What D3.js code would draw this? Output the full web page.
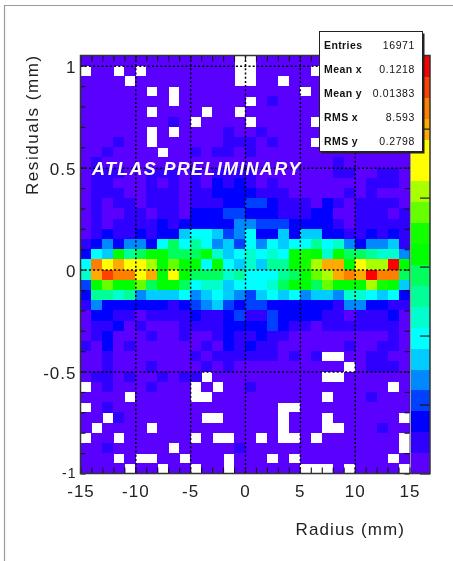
<!DOCTYPE html>
<html>
<head>
<meta charset="utf-8">
<script src="https://cdn.jsdelivr.net/npm/d3@7"></script>
<style>
  html, body { margin: 0; padding: 0; background: #fff; }
  svg { display: block; filter: blur(0.55px); font-family: "Liberation Sans", sans-serif; }
</style>
</head>
<body>
<svg id="chart"></svg>
<script>
// bin edges
const xDomain = [-15, 15]
const yDomain = [-1, 1.05]
const binX = 1
const binY = 0.05

const xMajor = [-15, -10, -5, 0, 5, 10, 15]
const yMajor = [-1, -0.5, 0, 0.5, 1]
const xMinor = d3.range(-15, 15.5, 1)
const yMinor = d3.range(-1, 1.01, 0.1)
const xGrid = [-10, -5, 0, 5, 10]
const yGrid = [-0.5, 0, 0.5, 1]

// colour level of each cell, top row first, 0 = empty bin
const cells = [
  [1,1,1,1,1,1,1,1,1,1,1,1,1,1,0,0,1,1,1,1,1,1,1,1,1,1,1,1,1,1],
  [0,1,1,0,1,0,1,1,1,1,1,1,1,1,0,0,1,1,1,1,1,0,1,1,1,1,1,1,1,1],
  [1,1,1,1,0,1,1,1,1,1,1,1,1,1,0,0,1,1,0,1,1,1,1,1,1,1,1,1,1,1],
  [1,1,1,1,1,1,0,1,0,1,1,1,1,1,1,1,1,1,1,1,0,1,1,1,1,1,1,1,1,1],
  [1,1,1,1,1,1,1,1,0,1,1,1,1,1,1,0,1,2,1,1,1,1,1,1,1,1,1,1,1,1],
  [1,1,1,1,1,1,0,1,1,1,1,0,1,1,0,1,1,1,1,1,1,1,1,1,1,1,1,1,1,1],
  [1,1,1,1,1,1,1,1,2,1,0,1,1,1,1,0,1,1,1,1,1,0,1,1,1,1,1,1,1,1],
  [1,1,1,1,1,1,0,1,0,1,1,1,1,2,1,1,2,1,1,1,1,1,1,1,1,1,1,1,1,1],
  [1,1,1,2,1,1,0,1,1,1,1,1,1,2,2,2,1,2,1,1,1,0,1,1,1,1,1,1,1,1],
  [1,1,2,1,1,1,1,0,1,1,2,1,2,2,1,2,1,1,1,1,1,1,1,1,1,1,1,1,1,1],
  [1,2,1,1,1,1,1,1,1,1,1,1,1,1,1,1,1,1,1,1,1,1,1,2,1,1,1,1,1,1],
  [1,2,2,2,1,1,2,2,2,1,2,1,2,2,2,2,1,1,1,1,1,1,1,2,2,1,1,2,2,1],
  [1,2,2,1,1,1,2,1,2,1,2,1,3,2,3,2,1,2,1,1,1,1,1,1,1,1,2,2,2,1],
  [1,2,2,2,1,1,2,2,2,1,2,2,3,3,3,3,2,2,2,1,1,1,1,1,2,1,2,1,1,1],
  [1,2,1,2,2,1,2,2,2,1,2,2,2,3,3,4,4,3,2,2,2,1,3,2,1,2,2,2,2,1],
  [1,2,1,1,2,2,1,2,2,1,3,3,3,4,4,3,3,3,2,2,2,3,3,1,1,2,2,2,1,2],
  [1,2,1,2,2,2,2,3,2,3,3,3,3,3,5,5,4,4,4,3,3,3,3,2,1,2,2,2,2,2],
  [1,2,3,2,2,3,2,3,3,6,7,7,6,4,5,7,3,3,6,3,6,6,3,3,2,2,3,2,3,2],
  [2,3,5,3,5,5,3,7,10,7,9,7,5,6,4,7,5,7,6,7,7,9,7,8,5,3,5,5,6,2],
  [3,7,6,11,9,10,11,11,10,10,10,11,8,6,7,8,7,8,7,11,12,11,8,11,10,10,9,8,8,5],
  [7,18,16,17,16,16,14,11,13,11,11,7,11,7,6,8,6,9,9,11,12,14,17,17,11,16,14,14,20,11],
  [8,17,19,18,18,16,17,11,16,11,10,10,10,8,9,7,7,7,9,10,11,13,14,17,18,17,20,18,18,10],
  [4,11,13,11,11,13,10,11,11,10,7,8,8,6,7,7,7,8,10,11,11,10,13,11,11,11,14,12,11,6],
  [3,9,9,8,9,5,6,6,6,7,5,6,7,6,5,4,6,7,6,7,5,6,6,5,8,8,7,6,7,3],
  [2,5,3,3,3,3,3,3,2,3,4,5,6,4,3,4,4,3,3,3,3,3,3,2,5,5,3,3,2,2],
  [1,3,3,2,2,1,2,2,2,2,3,2,2,3,4,2,2,4,3,3,3,3,2,2,1,2,2,2,3,1],
  [1,2,2,3,1,2,1,1,1,2,2,2,2,3,3,3,3,4,3,2,2,1,2,2,2,2,2,2,2,1],
  [1,2,3,1,1,1,2,1,1,2,1,1,2,3,2,2,3,2,2,1,1,1,1,1,1,1,1,1,2,1],
  [2,1,3,1,2,1,1,1,1,1,1,2,1,3,2,3,2,2,1,1,1,1,1,1,2,1,1,2,2,1],
  [1,1,2,1,1,1,1,1,1,1,2,1,2,2,2,2,2,2,1,2,1,2,0,0,1,1,2,2,1,1],
  [1,1,2,1,1,1,2,1,1,1,1,2,1,2,1,1,1,1,1,1,1,1,1,1,0,1,2,2,2,1],
  [1,2,2,1,2,1,1,2,1,2,2,0,1,1,1,1,1,1,1,1,1,1,0,0,1,1,1,1,1,1],
  [0,1,2,1,1,1,2,1,1,1,0,1,0,1,1,2,1,1,1,1,1,1,1,1,1,1,1,1,0,1],
  [1,1,1,1,0,1,1,1,1,1,0,0,1,1,1,1,1,1,1,1,1,1,0,1,1,1,2,1,1,1],
  [0,1,2,1,1,1,1,1,1,1,1,1,1,1,1,1,1,1,0,0,1,1,1,1,1,1,1,1,1,1],
  [1,1,0,2,1,1,1,1,1,1,1,0,0,1,1,1,1,1,0,1,1,1,0,1,1,1,1,1,1,0],
  [1,0,1,1,1,1,0,1,1,1,1,1,1,1,1,1,1,1,0,1,1,1,0,0,1,1,1,2,1,1],
  [0,1,1,0,1,1,1,1,1,1,0,1,0,0,1,1,0,1,0,0,1,0,1,1,1,1,1,1,1,0],
  [1,1,2,1,1,1,1,1,0,1,1,1,1,1,2,1,1,1,1,1,1,1,1,1,1,1,1,1,1,0],
  [1,1,1,0,1,0,0,1,1,0,1,1,1,0,1,1,1,0,1,0,1,1,1,1,1,1,1,1,0,1],
  [1,1,1,1,0,1,1,0,1,1,0,1,1,0,1,1,1,1,1,1,0,0,0,1,0,1,1,1,1,0]
]

// palette, bottom of the colour bar first
const palette = [
  '#5a00ff', '#3000ff', '#0000ff', '#0040ff', '#0088ff',
  '#00ccff', '#00ffff', '#00ffcc', '#00ff99', '#00ff5c',
  '#00ff00', '#12ff00', '#66ff00', '#aaff00', '#ffff00',
  '#ffff00', '#ffaa00', '#ff8000', '#ff4000', '#ff0000'
]
const zDomain = [0, 60.6]
const zTicks = [0, 10, 20, 30, 40, 50]

const statNames = ['Entries', 'Mean x', 'Mean y', 'RMS x', 'RMS y']
const statValues = ['16971', '0.1218', '0.01383', '8.593', '0.2798']

let width = 453
let height = 561
let margin = { top: 55.5, left: 80.5, right: 409.5, bottom: 473.5 }

let svg = d3.select('#chart')
  .attr('width', width)
  .attr('height', height)
  .attr('viewBox', [0, 0, width, height])

// frame of the pasted page
svg.append('path')
  .attr('d', d3.line()([[4.5, height], [4.5, 5.5], [width, 5.5]]))
  .attr('fill', 'none')
  .attr('stroke', '#9a9a9a')
  .attr('stroke-width', 1.2)

let x = d3.scaleLinear().domain(xDomain).range([margin.left, margin.right])
let y = d3.scaleLinear().domain(yDomain).range([margin.bottom, margin.top])

// histogram cells
let cellData = cells.flatMap((row, i) => row.map((level, j) => ({
  level,
  x0: xDomain[0] + j * binX,
  y1: yDomain[1] - i * binY
}))).filter(d => d.level > 0)

svg.append('g')
  .attr('shape-rendering', 'crispEdges')
  .selectAll('rect')
  .data(cellData)
  .enter()
  .append('rect')
  .attr('x', d => x(d.x0))
  .attr('y', d => y(d.y1))
  .attr('width', d => x(d.x0 + binX) - x(d.x0) + 0.5)
  .attr('height', d => y(d.y1 - binY) - y(d.y1) + 0.5)
  .attr('fill', d => palette[d.level - 1])

// dotted grid
let gridStyle = g => {
  g.select('.domain').remove()
  g.selectAll('text').remove()
  g.selectAll('line')
    .attr('stroke', '#000')
    .attr('stroke-width', 1.5)
    .attr('stroke-dasharray', '2 2.2')
}
svg.append('g')
  .attr('transform', `translate(0,${margin.bottom})`)
  .call(d3.axisBottom(x).tickValues(xGrid).tickSize(margin.top - margin.bottom))
  .call(gridStyle)
svg.append('g')
  .attr('transform', `translate(${margin.left},0)`)
  .call(d3.axisLeft(y).tickValues(yGrid).tickSize(margin.left - margin.right))
  .call(gridStyle)

// inside ticks on all four sides
let tickStyle = g => {
  g.select('.domain').remove()
  g.selectAll('text').remove()
  g.selectAll('line').attr('stroke', '#111').attr('stroke-width', 1.1)
}
svg.append('g')
  .attr('transform', `translate(0,${margin.bottom})`)
  .call(d3.axisBottom(x).tickValues(xMinor).tickSize(-6))
  .call(tickStyle)
svg.append('g')
  .attr('transform', `translate(0,${margin.top})`)
  .call(d3.axisTop(x).tickValues(xMinor).tickSize(-6))
  .call(tickStyle)
svg.append('g')
  .attr('transform', `translate(${margin.left},0)`)
  .call(d3.axisLeft(y).tickValues(yMinor).tickSize(-5))
  .call(tickStyle)
svg.append('g')
  .attr('transform', `translate(${margin.right},0)`)
  .call(d3.axisRight(y).tickValues(yMinor).tickSize(-5))
  .call(tickStyle)

// colour bar
let barLeft = margin.right + 1
let barRight = 430
let bandY = d3.scaleLinear().domain([0, palette.length]).range([margin.bottom, margin.top])
svg.append('g')
  .attr('shape-rendering', 'crispEdges')
  .selectAll('rect')
  .data(palette)
  .enter()
  .append('rect')
  .attr('x', barLeft)
  .attr('width', barRight - barLeft)
  .attr('y', (d, i) => bandY(i + 1))
  .attr('height', (d, i) => bandY(i) - bandY(i + 1) + 0.5)
  .attr('fill', d => d)

let z = d3.scaleLinear().domain(zDomain).range([margin.bottom, margin.top])
svg.append('g')
  .attr('transform', `translate(${barRight},0)`)
  .call(d3.axisRight(z).tickValues(zTicks).tickSize(-10))
  .call(tickStyle)

svg.append('rect')
  .attr('x', margin.left)
  .attr('y', margin.top)
  .attr('width', barRight - margin.left)
  .attr('height', margin.bottom - margin.top)
  .attr('fill', 'none')
  .attr('stroke', '#333')
  .attr('stroke-width', 1.5)
svg.append('line')
  .attr('x1', margin.right + 0.5).attr('x2', margin.right + 0.5)
  .attr('y1', margin.top).attr('y2', margin.bottom)
  .attr('stroke', '#333')
  .attr('stroke-width', 1)

// tick labels, plain hyphen as in the original
let plainNumber = d => String(d)
let labelStyle = g => {
  g.select('.domain').remove()
  g.selectAll('line').remove()
  g.selectAll('text')
    .attr('fill', '#222')
    .style('font-size', '17px')
    .style('letter-spacing', '1px')
}
svg.append('g')
  .attr('transform', `translate(0,${margin.bottom})`)
  .call(d3.axisBottom(x).tickValues(xMajor).tickFormat(plainNumber).tickSize(0).tickPadding(11))
  .call(labelStyle)
svg.append('g')
  .attr('transform', `translate(${margin.left},0)`)
  .call(d3.axisLeft(y).tickValues(yMajor).tickFormat(plainNumber).tickSize(0).tickPadding(4))
  .call(labelStyle)
  .call(g => g.selectAll('text').attr('dy', '0.38em'))
  .call(g => g.selectAll('.tick').filter(d => d === -1).select('text').attr('dy', '0.3em').style('font-size', '14px'))

svg.append('text')
  .attr('x', 405)
  .attr('y', 535)
  .attr('text-anchor', 'end')
  .attr('fill', '#222')
  .style('font-size', '17px')
  .style('letter-spacing', '1.1px')
  .text('Radius (mm)')

svg.append('text')
  .attr('transform', 'translate(38,195) rotate(-90)')
  .attr('fill', '#222')
  .style('font-size', '17px')
  .style('letter-spacing', '1.55px')
  .text('Residuals (mm)')

svg.append('text')
  .attr('x', 92)
  .attr('y', 174.5)
  .attr('fill', '#fff')
  .style('font-size', '18px')
  .style('font-weight', 'bold')
  .style('font-style', 'italic')
  .style('letter-spacing', '1.3px')
  .text('ATLAS PRELIMINARY')

// stats box
let boxX = 319.5
let boxY = 31.5
let boxW = 103
let boxH = 120
svg.append('rect')
  .attr('x', boxX + 2)
  .attr('y', boxY + 2)
  .attr('width', boxW)
  .attr('height', boxH)
  .attr('fill', '#222')
svg.append('rect')
  .attr('x', boxX)
  .attr('y', boxY)
  .attr('width', boxW)
  .attr('height', boxH)
  .attr('fill', '#fff')
  .attr('stroke', '#222')
  .attr('stroke-width', 1)

let statY = d3.scalePoint().domain(statNames).range([45, 141])
let stats = svg.append('g')
  .selectAll('g')
  .data(statNames)
  .enter()
  .append('g')
  .attr('transform', d => `translate(0,${statY(d)})`)
stats.append('text')
  .attr('x', 324)
  .attr('dy', '0.35em')
  .attr('fill', '#111')
  .style('font-size', '10.5px')
  .style('font-weight', 'bold')
  .style('letter-spacing', '0.4px')
  .text(d => d)
stats.append('text')
  .attr('x', 415)
  .attr('dy', '0.35em')
  .attr('text-anchor', 'end')
  .attr('fill', '#111')
  .style('font-size', '10.5px')
  .style('letter-spacing', '0.6px')
  .text((d, i) => statValues[i])
</script>
</body>
</html>
